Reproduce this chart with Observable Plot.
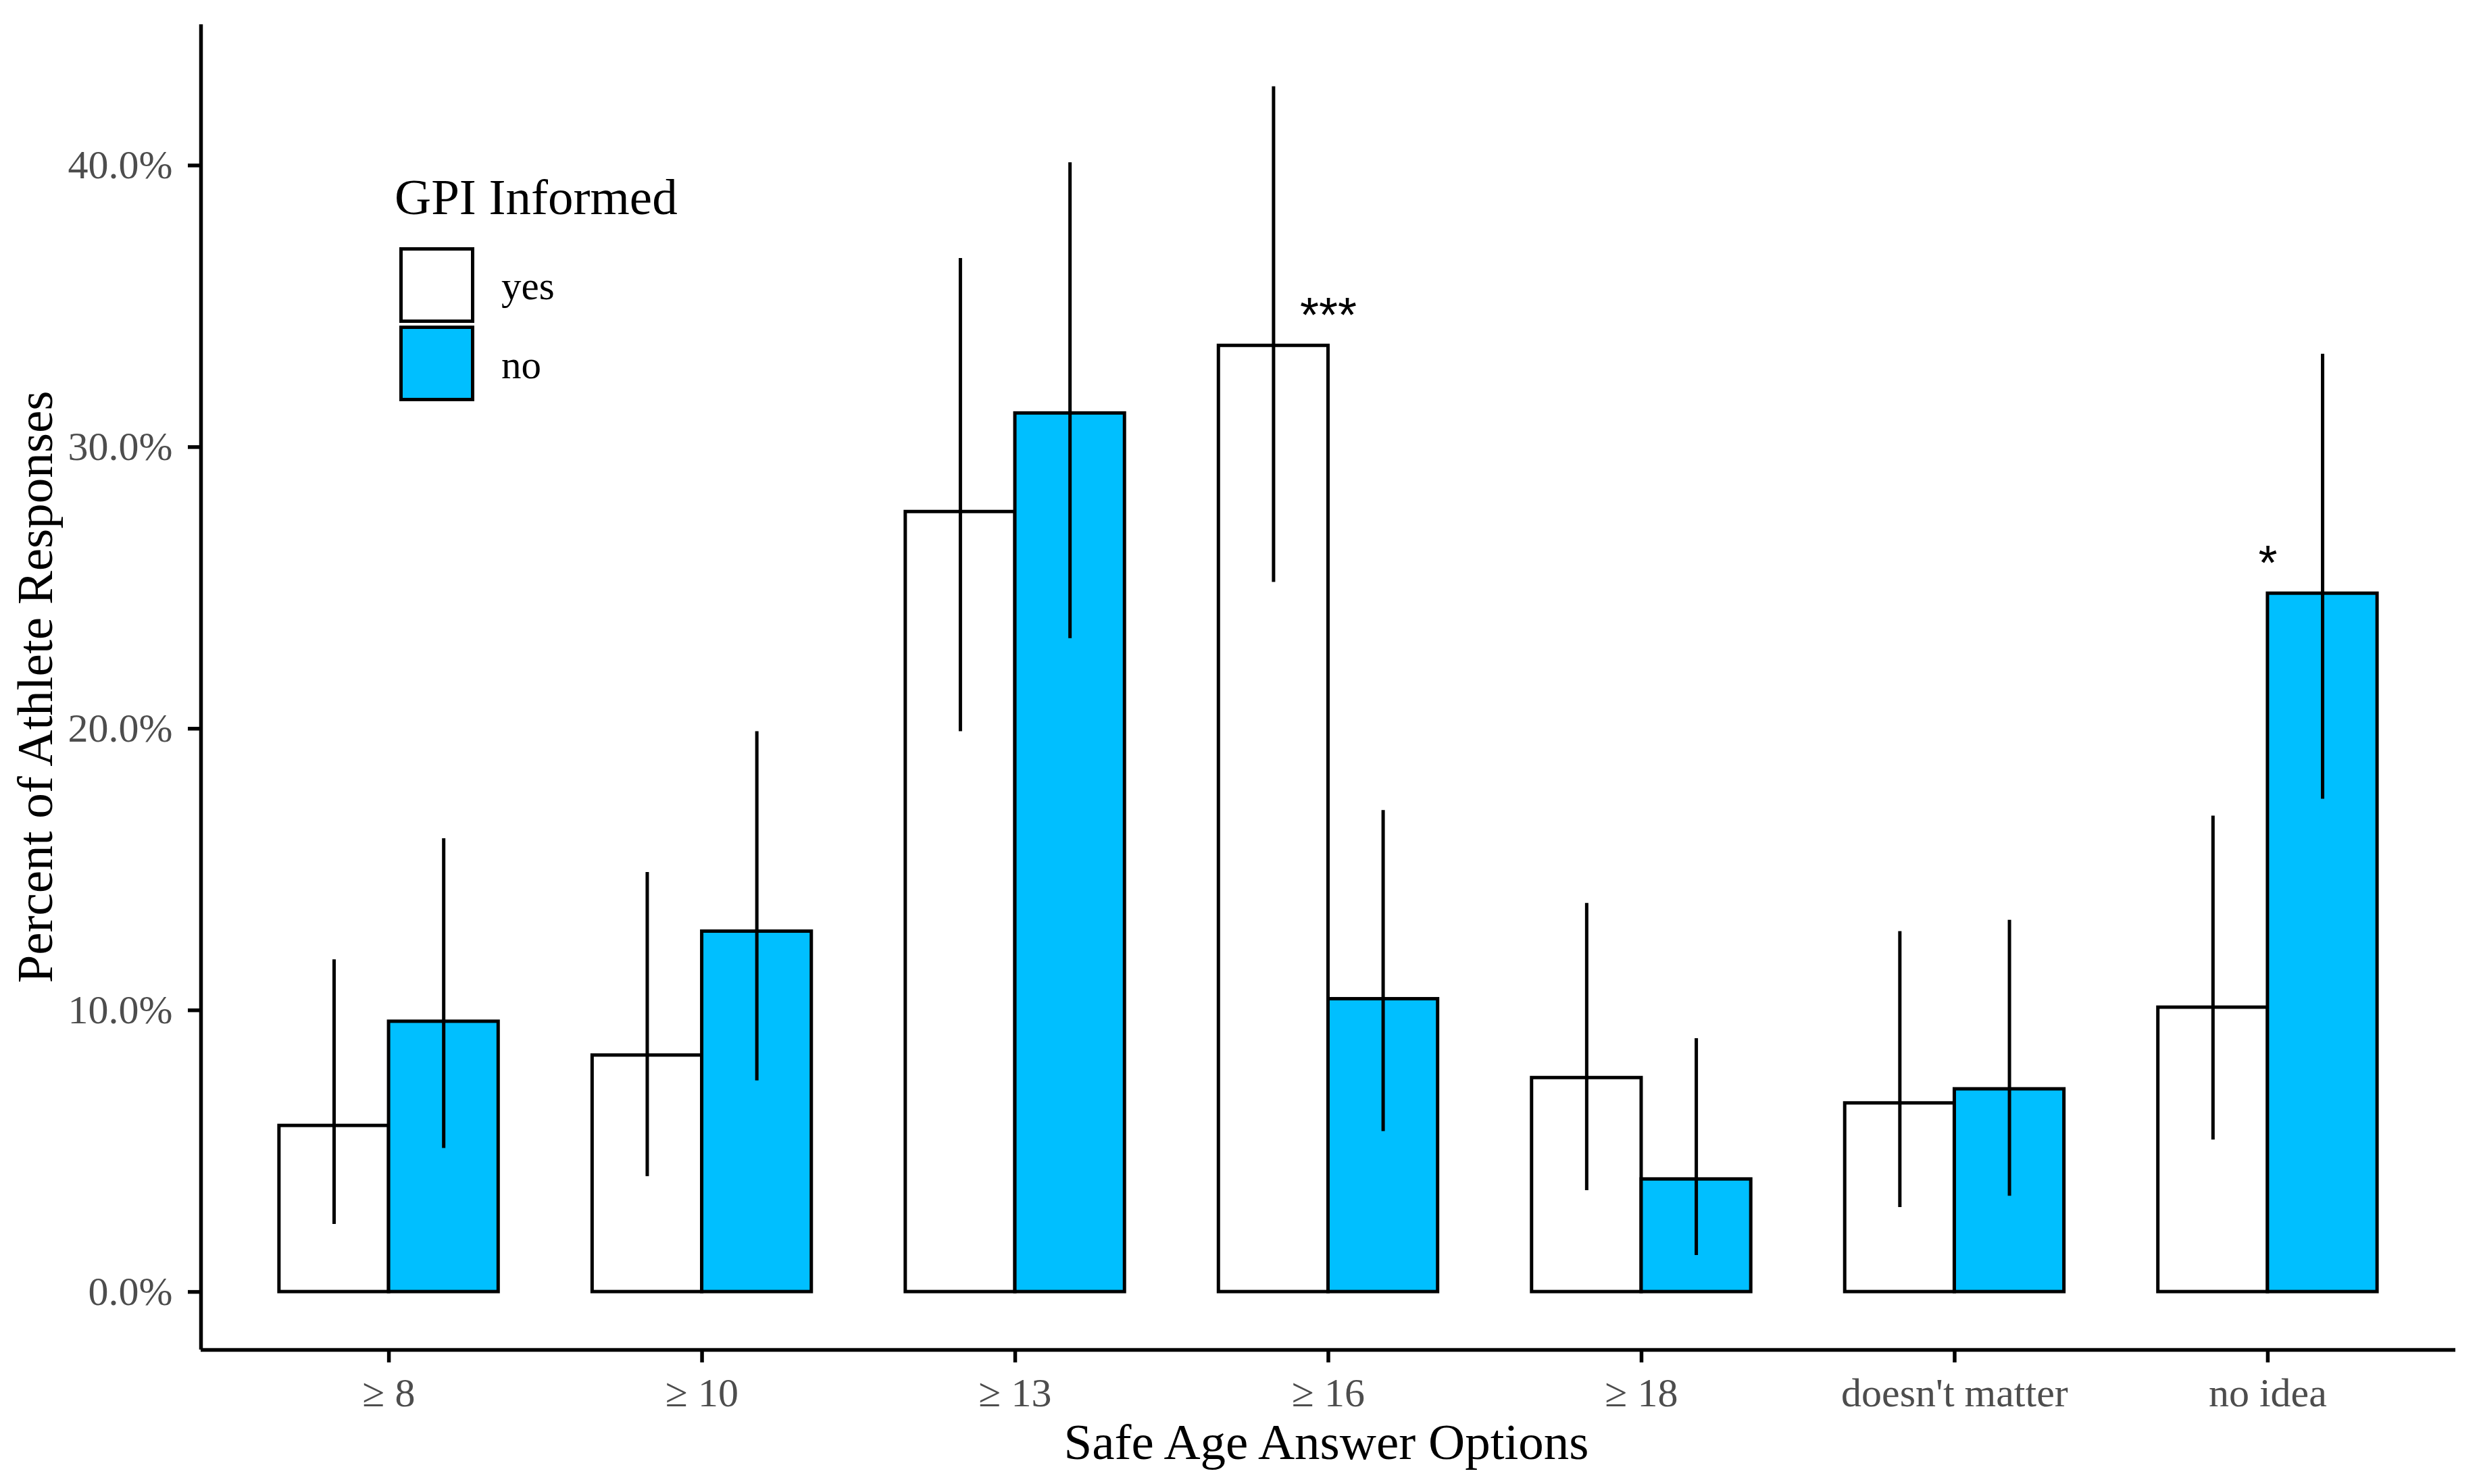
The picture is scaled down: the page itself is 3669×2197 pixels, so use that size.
<!DOCTYPE html>
<html>
<head>
<meta charset="utf-8">
<script src="https://cdn.jsdelivr.net/npm/d3@7"></script>
<script src="https://cdn.jsdelivr.net/npm/@observablehq/plot@0.6"></script>
<style>
  html, body { margin: 0; padding: 0; background: white; }
  #wrap { position: relative; width: 3669px; height: 2197px; font-family: 'Liberation Serif', 'Times New Roman', serif; color: black; }
  #wrap svg { position: absolute; left: 0; top: 0; }
  .abs { position: absolute; white-space: nowrap; line-height: 1; }
  .key { position: absolute; box-sizing: border-box; border: 5px solid black; }
</style>
</head>
<body>
<div id="wrap"></div>
<script>
// ---- data ----
const categories = ["≥ 8", "≥ 10", "≥ 13", "≥ 16", "≥ 18", "doesn't matter", "no idea"];
const groups = ["yes", "no"];
const groupColors = ["white", "#00BFFF"];
const yesPct  = [5.9, 8.4, 27.7, 33.6, 7.6, 6.7, 10.1];
const yesLow  = [2.4, 4.1, 19.9, 25.2, 3.6, 3.0, 5.4];
const yesHigh = [11.8, 14.9, 36.7, 42.8, 13.8, 12.8, 16.9];
const noPct   = [9.6, 12.8, 31.2, 10.4, 4.0, 7.2, 24.8];
const noLow   = [5.1, 7.5, 23.2, 5.7, 1.3, 3.4, 17.5];
const noHigh  = [16.1, 19.9, 40.1, 17.1, 9.0, 13.2, 33.3];
const significance = ["", "", "", "***", "", "", "*"];
const yTicks = [0, 10, 20, 30, 40];
const legendTitle = "GPI Informed";
const xTitle = "Safe Age Answer Options";
const yTitle = "Percent of Athlete Responses";

// ---- derived table ----
const barWidth = 0.35;
const rows = [];
categories.forEach((c, i) => {
  groups.forEach((g, k) => {
    const x1 = i - barWidth + k * barWidth;
    rows.push({
      i, category: c, group: g, x1, x2: x1 + barWidth, center: x1 + barWidth / 2,
      value: k === 0 ? yesPct[i] : noPct[i],
      lo: k === 0 ? yesLow[i] : noLow[i],
      hi: k === 0 ? yesHigh[i] : noHigh[i]
    });
  });
});
const annotations = categories.map((c, i) => ({
  i, sig: significance[i], top: Math.max(yesPct[i], noPct[i]) + 1.05
})).filter(d => d.sig);

const xDomain = [-0.6, categories.length - 1 + 0.6];
const yDomain = [-2.06, 45.0];

const chart = Plot.plot({
  width: 3669,
  height: 2197,
  marginLeft: 297,
  marginRight: 35,
  marginTop: 36,
  marginBottom: 199,
  style: { fontFamily: "'Liberation Serif', serif", fontSize: "60px", background: "transparent", overflow: "visible" },
  x: { type: "linear", domain: xDomain },
  y: { domain: yDomain },
  color: { domain: groups, range: groupColors },
  marks: [
    Plot.rect(rows, { x1: "x1", x2: "x2", y1: 0, y2: "value", fill: "group", stroke: "black", strokeWidth: 5 }),
    Plot.ruleX(rows, { x: "center", y1: "lo", y2: "hi", stroke: "black", strokeWidth: 5 }),
    Plot.text(annotations, { x: "i", y: "top", text: "sig", fontFamily: "'Liberation Sans', Arial, sans-serif", fontSize: 72, fill: "black" }),
    Plot.axisY({ ticks: yTicks, tickFormat: d => d.toFixed(1) + "%", tickSize: 19, tickPadding: 23, fontSize: 60, fill: "#4D4D4D", stroke: "black", strokeWidth: 5.5, label: null }),
    Plot.axisX({ ticks: d3.range(categories.length), tickFormat: i => categories[i], tickSize: 19, tickPadding: 22, fontSize: 60, fill: "#4D4D4D", stroke: "black", strokeWidth: 5.5, label: null }),
    Plot.ruleX([xDomain[0]], { stroke: "black", strokeWidth: 5.5 }),
    Plot.ruleY([yDomain[0]], { stroke: "black", strokeWidth: 5.5 })
  ]
});

const wrap = document.getElementById("wrap");
wrap.appendChild(chart);

function addText(txt, css) {
  const d = document.createElement("div");
  d.className = "abs";
  d.textContent = txt;
  Object.assign(d.style, css);
  wrap.appendChild(d);
  return d;
}

// axis titles
addText(xTitle, { left: "1963px", top: "2097px", fontSize: "75px", transform: "translateX(-50%)" });
addText(yTitle, { left: "51px", top: "1017px", fontSize: "75px", transform: "translate(-50%, -50%) rotate(-90deg)" });

// legend
addText(legendTitle, { left: "584px", top: "254px", fontSize: "75px" });
groups.forEach((g, k) => {
  const key = document.createElement("div");
  key.className = "key";
  Object.assign(key.style, { left: "591px", top: (366 + k * 116) + "px", width: "111px", height: "112px", background: groupColors[k] });
  wrap.appendChild(key);
  addText(g, { left: "742px", top: (394 + k * 117) + "px", fontSize: "59px" });
});
</script>
</body>
</html>
